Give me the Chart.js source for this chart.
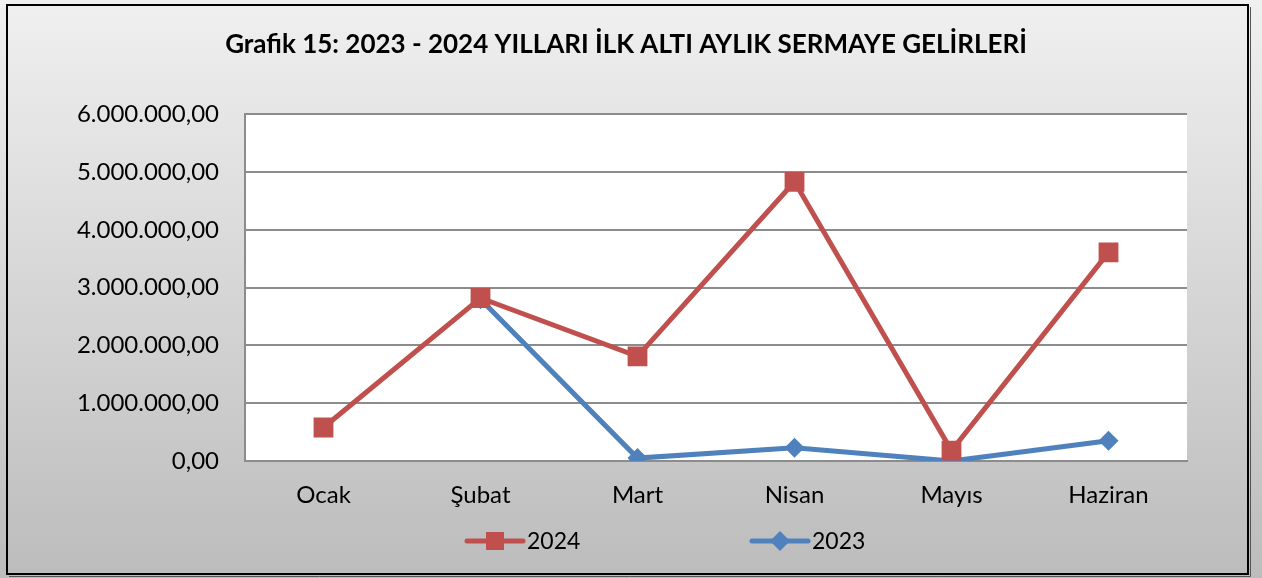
<!DOCTYPE html>
<html>
<head>
<meta charset="utf-8">
<script src="https://cdn.jsdelivr.net/npm/chart.js@4"></script>
<style>
  html, body { margin: 0; padding: 0; background: #fff; }
  #wrap { width: 1262px; height: 578px; }
</style>
</head>
<body>
<div id="wrap"><canvas id="chart" width="1262" height="578"></canvas></div>
<script>
const months = ['Ocak', 'Şubat', 'Mart', 'Nisan', 'Mayıs', 'Haziran'];
const values2024 = [580000, 2820000, 1810000, 4830000, 180000, 3610000];
const values2023 = [null, 2800000, 50000, 230000, 0, 350000];
const yTicks = [0, 1000000, 2000000, 3000000, 4000000, 5000000, 6000000];

const red = '#C0504D';
const blue = '#4F81BD';
const fontName = 'Lato, "Open Sans", sans-serif';

function trFormat(v) {
    const parts = Math.round(v).toString().replace(/\B(?=(\d{3})+(?!\d))/g, '.');
    return parts + ',00';
}

// background, frame and white plot area
const backdrop = {
    id: 'backdrop',
    beforeDraw(chart) {
        const ctx = chart.ctx;
        const a = chart.chartArea;
        ctx.save();
        const g = ctx.createLinearGradient(0, 0, 0, chart.height);
        g.addColorStop(0, '#f0f0f0');
        g.addColorStop(1, '#bcbcbc');
        ctx.fillStyle = g;
        ctx.fillRect(0, 0, chart.width, chart.height);
        ctx.fillStyle = '#ffffff';
        ctx.fillRect(a.left, a.top, a.right - a.left, a.bottom - a.top);
        ctx.strokeStyle = '#000000';
        ctx.lineWidth = 2;
        ctx.strokeRect(7, 5, 1241, 569);
        ctx.strokeStyle = '#555555';
        ctx.lineWidth = 1;
        ctx.beginPath();
        ctx.moveTo(1250.5, 7);
        ctx.lineTo(1250.5, 576.5);
        ctx.lineTo(9, 576.5);
        ctx.stroke();
        ctx.restore();
    }
};

// legend: line + marker, like the original
const lineLegend = {
    id: 'lineLegend',
    afterDraw(chart) {
        const ctx = chart.ctx;
        const starts = [467, 752];
        const y = 541;
        ctx.save();
        chart.data.datasets.forEach((ds, i) => {
            const x = starts[i];
            ctx.strokeStyle = ds.borderColor;
            ctx.lineWidth = 5;
            ctx.lineCap = 'round';
            ctx.beginPath();
            ctx.moveTo(x, y);
            ctx.lineTo(x + 56, y);
            ctx.stroke();
            ctx.fillStyle = ds.borderColor;
            const cx = x + 28;
            if (ds.pointStyle === 'rect') {
                ctx.fillRect(cx - 9, y - 9, 18, 18);
            } else {
                ctx.beginPath();
                ctx.moveTo(cx - 10, y);
                ctx.lineTo(cx, y - 10);
                ctx.lineTo(cx + 10, y);
                ctx.lineTo(cx, y + 10);
                ctx.closePath();
                ctx.fill();
            }
            ctx.fillStyle = '#000000';
            ctx.font = '23px ' + fontName;
            ctx.textBaseline = 'middle';
            ctx.textAlign = 'left';
            ctx.fillText(ds.label, x + 60, y + 1);
        });
        ctx.restore();
    }
};

new Chart(document.getElementById('chart'), {
    type: 'line',
    data: {
        labels: months,
        datasets: [{
            label: '2024',
            data: values2024,
            borderColor: red,
            backgroundColor: red,
            borderWidth: 5,
            pointStyle: 'rect',
            pointRadius: 14,
            pointHoverRadius: 14,
            pointBorderWidth: 0,
            tension: 0
        }, {
            label: '2023',
            data: values2023,
            borderColor: blue,
            backgroundColor: blue,
            borderWidth: 5,
            pointStyle: 'rectRot',
            pointRadius: 10,
            pointHoverRadius: 10,
            pointBorderWidth: 0,
            tension: 0
        }]
    },
    options: {
        responsive: false,
        animation: false,
        layout: { padding: { left: 0, right: 10, top: 0, bottom: 57 } },
        plugins: {
            legend: { display: false },
            tooltip: { enabled: false },
            title: {
                display: true,
                text: 'Grafik 15: 2023 - 2024 YILLARI İLK ALTI AYLIK SERMAYE GELİRLERİ',
                color: '#000000',
                font: { family: fontName, size: 26, weight: 'bold' },
                padding: { top: 29, bottom: 54 }
            }
        },
        scales: {
            x: {
                offset: true,
                grid: { display: false, drawTicks: false },
                border: { display: true, color: '#8c8c8c', width: 2 },
                ticks: {
                    color: '#000000',
                    font: { family: fontName, size: 24 },
                    padding: 20,
                    maxRotation: 0
                },
                afterFit(scale) { scale.height = 60; }
            },
            y: {
                min: 0,
                max: 6000000,
                afterBuildTicks(scale) { scale.ticks = yTicks.map(v => ({ value: v })); },
                grid: { color: '#8c8c8c', lineWidth: 2, drawTicks: false },
                border: { display: true, color: '#8c8c8c', width: 2 },
                ticks: {
                    color: '#000000',
                    font: { family: fontName, size: 24 },
                    padding: 26,
                    callback: v => trFormat(v)
                },
                afterFit(scale) { scale.width = 245; }
            },
            yRight: {
                position: 'right',
                min: 0,
                max: 6000000,
                grid: { display: false, drawTicks: false },
                border: { display: false },
                ticks: { display: false },
                afterFit(scale) { scale.width = 65; }
            }
        }
    },
    plugins: [backdrop, lineLegend]
});
</script>
</body>
</html>
